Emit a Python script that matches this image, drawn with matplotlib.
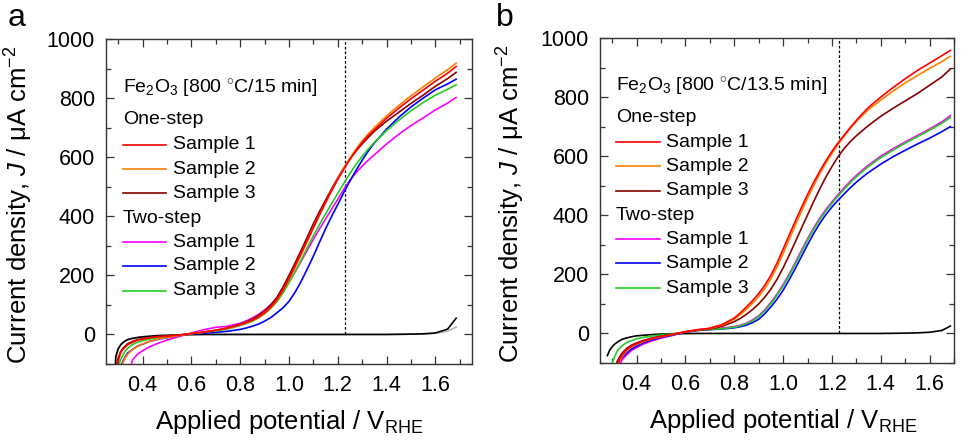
import matplotlib
matplotlib.use("Agg")
import matplotlib.pyplot as plt
from matplotlib.ticker import MultipleLocator, FormatStrFormatter

plt.rcParams['font.family'] = ['Liberation Sans', 'DejaVu Sans']
plt.rcParams['mathtext.fontset'] = 'custom'
plt.rcParams['mathtext.rm'] = 'Liberation Sans'
plt.rcParams['mathtext.it'] = 'Liberation Sans:italic'

# potential grid (V vs RHE) shared by every curve
potential = [0.28, 0.29, 0.30, 0.31, 0.32, 0.33, 0.34, 0.36, 0.38, 0.40, 0.43, 0.46, 0.50, 0.55,
             0.60, 0.65, 0.70, 0.75,
             0.80, 0.825, 0.85, 0.875, 0.90, 0.925, 0.95, 0.975, 1.00, 1.025, 1.05, 1.075, 1.10,
             1.125, 1.15, 1.175, 1.20, 1.225, 1.25, 1.275, 1.30, 1.325, 1.35,
             1.40, 1.45, 1.50, 1.55, 1.60, 1.65, 1.685]

# panel a: 800 C / 15 min (uA cm-2)
a_dark = [-300, -75, -48, -35, -27, -21, -17, -13, -10, -8, -6, -4, -3, -1.5,
          -0.5, 0, 0, 0,
          0, 0, 0, 0, 0, 0, 0, 0, 0, 0, 0, 0, 0, 0, 0, 0, 0, 0, 0, 0, 0, 0, 0,
          0, 0.5, 1, 2, 5, 18, 55]
a_dark2 = [-300, -80, -50, -37, -28, -22, -18, -14, -11, -8, -6, -4, -3, -1.5,
           -0.5, 0, 0, 0,
           0, 0, 0, 0, 0, 0, 0, 0, 0, 0, 0, 0, 0, 0, 0, 0, 0, 0, 0, 0, 0, 0, 0,
           0, 0.5, 1, 2, 4, 11, 25]
a_one_1 = [-400, -130, -90, -62, -50, -42, -34, -26, -19, -16, -11, -8, -5.5, -2,
           3, 8, 14, 22,
           33, 40, 48, 59, 73, 92, 117, 150, 190, 232, 275, 318, 362, 405, 447, 487, 525, 560, 593, 623, 650, 673, 693,
           732, 766, 798, 827, 857, 884, 907]
a_one_2 = [-400, -350, -250, -130, -95, -78, -66, -50, -40, -32, -23, -16, -10, -4,
           3, 8, 14, 22,
           33, 40, 48, 58, 72, 90, 115, 148, 186, 227, 270, 315, 360, 404, 446, 487, 527, 563, 597, 628, 655, 679, 700,
           740, 775, 808, 838, 868, 896, 918]
a_one_3 = [-300, -115, -80, -58, -46, -38, -31, -23, -17, -14, -10, -7, -5, -2,
           3, 8, 14, 23,
           35, 43, 52, 64, 80, 100, 125, 160, 200, 242, 285, 330, 375, 416, 455, 493, 530, 564, 595, 621, 645, 667, 688,
           722, 752, 782, 810, 840, 866, 887]
a_two_1 = [-400, -400, -400, -400, -400, -300, -130, -85, -66, -55, -41, -31, -19, -7,
           5, 16, 24, 28,
           38, 46, 56, 68, 83, 100, 120, 147, 178, 212, 248, 285, 322, 357, 391, 425, 458, 492, 522, 548, 570, 590, 608,
           645, 678, 707, 733, 760, 783, 802]
a_two_2 = [-400, -400, -250, -110, -90, -74, -62, -50, -39, -33, -23, -17, -11, -4,
           2, 4, 7, 11,
           17, 22, 28, 35, 45, 57, 73, 90, 112, 143, 180, 222, 265, 312, 358, 400, 440, 481, 520, 556, 590, 621, 648,
           695, 735, 770, 800, 828, 848, 864]
a_two_3 = [-400, -300, -110, -85, -68, -55, -46, -33, -26, -21, -15, -11, -7, -2,
           3, 7, 12, 19,
           30, 37, 45, 56, 70, 88, 110, 140, 175, 212, 252, 294, 334, 372, 408, 443, 478, 512, 545, 576, 603, 628, 650,
           690, 725, 757, 785, 810, 830, 845]

# panel b: 800 C / 13.5 min
b_dark = [-75, -56, -45, -36, -30, -25, -20, -15, -11, -8, -6, -4, -2, -1,
          -0.5, 0, 0, 0,
          0, 0, 0, 0, 0, 0, 0, 0, 0, 0, 0, 0, 0, 0, 0, 0, 0, 0, 0, 0, 0, 0, 0,
          0, 0.5, 1, 2, 4, 10, 25]
b_one_1 = [-400, -400, -400, -250, -120, -88, -73, -55, -43, -35, -25, -18, -10, -3,
           6, 12, 18, 30,
           52, 70, 90, 111, 135, 163, 197, 238, 285, 333, 380, 426, 470, 511, 549, 584, 616, 645, 671, 697, 721, 744, 765,
           800, 832, 862, 890, 915, 940, 958]
b_one_2 = [-400, -400, -400, -300, -140, -95, -78, -58, -45, -37, -27, -19, -11, -3,
           6, 12, 17, 28,
           48, 64, 82, 102, 125, 152, 185, 225, 270, 318, 366, 413, 458, 500, 540, 576, 609, 640, 668, 694, 717, 738, 758,
           790, 820, 848, 873, 897, 920, 938]
b_one_3 = [-400, -400, -300, -180, -95, -80, -67, -50, -39, -32, -23, -16, -9, -2,
           5, 11, 15, 24,
           40, 51, 65, 81, 100, 123, 150, 183, 222, 265, 310, 356, 401, 446, 489, 529, 565, 598, 626, 649, 669, 687, 704,
           735, 762, 787, 812, 840, 868, 895]
b_two_1 = [-400, -400, -400, -400, -300, -110, -90, -72, -57, -48, -35, -26, -16, -6,
           6, 13, 16, 18,
           23, 28, 35, 46, 60, 80, 105, 133, 165, 201, 240, 281, 320, 357, 390, 419, 445, 470, 493, 515, 535, 553, 570,
           600, 625, 648, 670, 692, 716, 737]
b_two_2 = [-400, -400, -400, -400, -250, -95, -82, -66, -52, -43, -31, -22, -14, -5,
           4, 10, 13, 15,
           19, 23, 28, 37, 48, 67, 90, 116, 146, 182, 220, 260, 300, 338, 372, 402, 428, 451, 472, 493, 512, 529, 545,
           573, 598, 620, 641, 661, 683, 700]
b_two_3 = [-400, -250, -100, -78, -60, -50, -42, -30, -24, -18, -13, -9, -5, -1,
           5, 11, 14, 16,
           21, 26, 33, 43, 57, 77, 101, 129, 160, 196, 235, 275, 315, 352, 385, 414, 440, 465, 488, 510, 530, 548, 565,
           595, 620, 644, 666, 688, 711, 731]

one_colors = ['#ff0000', '#ff8000', '#8b0000']
two_colors = ['#ff00ff', '#0000ff', '#22cc22']
sample_names = ['Sample 1', 'Sample 2', 'Sample 3']
titles = ['Fe$_2$O$_3$ [800 $^{\\circ}$C/15 min]', 'Fe$_2$O$_3$ [800 $^{\\circ}$C/13.5 min]']

fig = plt.figure(figsize=(9.68, 4.41), dpi=100)
ax_a = fig.add_axes([106 / 968, 77 / 441, 366 / 968, 325 / 441])
ax_b = fig.add_axes([600 / 968, 78 / 441, 354 / 968, 325 / 441])


def draw_panel(ax, darks, ones, twos, xmax, title, leg):
    for d, c in darks:
        ax.plot(potential, d, color=c, lw=1.2, zorder=2)
    for y, c in zip(twos, two_colors):
        ax.plot(potential, y, color=c, lw=1.2, zorder=3)
    for y, c in reversed(list(zip(ones, one_colors))):
        ax.plot(potential, y, color=c, lw=1.2, zorder=4)
    ax.plot([1.23, 1.23], [0, 1000], color='black', lw=0.9, ls=(0, (2.2, 1.6)), zorder=1)

    ax.set_xlim(0.25, xmax)
    ax.set_ylim(-100, 1000)
    ax.xaxis.set_major_locator(MultipleLocator(0.2))
    ax.xaxis.set_minor_locator(MultipleLocator(0.1))
    ax.xaxis.set_major_formatter(FormatStrFormatter('%.1f'))
    ax.yaxis.set_major_locator(MultipleLocator(200))
    ax.yaxis.set_minor_locator(MultipleLocator(100))
    ax.tick_params(which='both', direction='in', top=True, right=True, color='#333333', width=0.9)
    ax.tick_params(which='major', length=6, pad=8, labelsize=15.5)
    ax.tick_params(which='minor', length=3.5)
    for s in ax.spines.values():
        s.set_linewidth(1.0)
        s.set_color('#333333')

    # hand-made legend
    lx0, lx1, tx, ys = leg
    ax.text(lx0, ys[0], title, transform=ax.transAxes, fontsize=14, va='center')
    ax.text(lx0, ys[1], 'One-step', transform=ax.transAxes, fontsize=14, va='center')
    ax.text(lx0, ys[5], 'Two-step', transform=ax.transAxes, fontsize=14, va='center')
    rows = [ys[2], ys[3], ys[4], ys[6], ys[7], ys[8]]
    for yy, c, name in zip(rows, one_colors + two_colors, sample_names * 2):
        ax.plot([lx0, lx1], [yy, yy], color=c, lw=1.2, transform=ax.transAxes)
        ax.text(tx, yy, name, transform=ax.transAxes, fontsize=14, va='center')

    ax.set_xlabel('Applied potential / V$_{\\mathrm{RHE}}$', fontsize=18.5)
    ax.set_ylabel('Current density, $J$ / \u03bcA cm$^{-2}$', fontsize=18.5)


draw_panel(ax_a, [(a_dark2, '#b8b8b8'), (a_dark, 'black')], [a_one_1, a_one_2, a_one_3],
           [a_two_1, a_two_2, a_two_3], 1.75, titles[0],
           (0.046, 0.164, 0.183, [0.846, 0.751, 0.674, 0.600, 0.526, 0.449, 0.375, 0.302, 0.225]))
draw_panel(ax_b, [(b_dark, 'black')], [b_one_1, b_one_2, b_one_3],
           [b_two_1, b_two_2, b_two_3], 1.70, titles[1],
           (0.045, 0.169, 0.186, [0.850, 0.756, 0.679, 0.606, 0.530, 0.455, 0.381, 0.307, 0.230]))

ax_a.xaxis.set_label_coords(0.50, -0.135)
ax_a.yaxis.set_label_coords(-0.195, 0.49)
ax_b.xaxis.set_label_coords(0.518, -0.135)
ax_b.yaxis.set_label_coords(-0.205, 0.49)

fig.text(8 / 968, 1 - 3 / 441, 'a', fontsize=23, va='top')
fig.text(496 / 968, 1 - 3 / 441, 'b', fontsize=23, va='top')

fig.savefig('out.png', dpi=100)
